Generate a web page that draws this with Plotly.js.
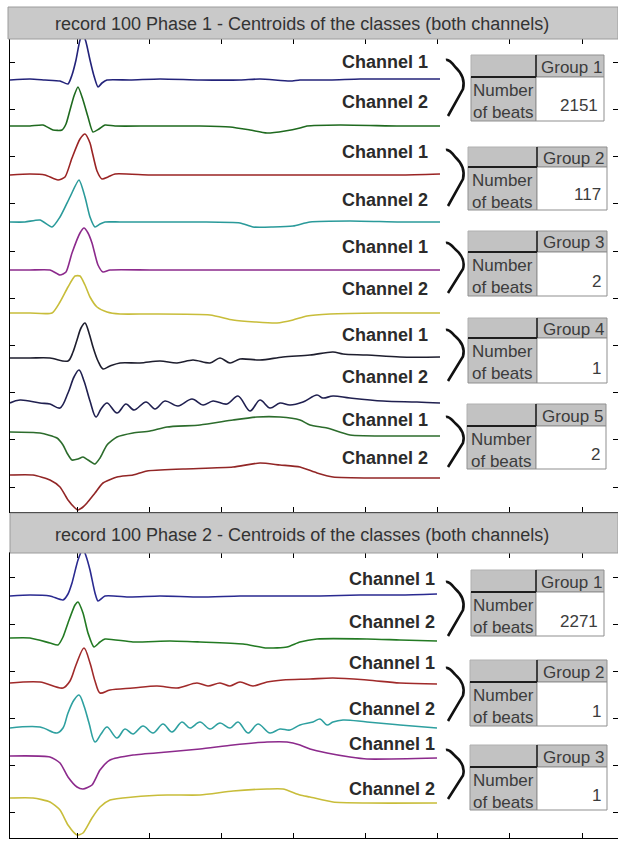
<!DOCTYPE html>
<html><head><meta charset="utf-8">
<script src="https://cdn.plot.ly/plotly-3.0.1.min.js"></script>
<style>html,body{margin:0;padding:0;background:#fff}#chart{width:618px;height:841px}</style>
</head><body><div id="chart"></div>
<script>
// ---------------- DATA ----------------
const phase1Title = "record 100 Phase 1 - Centroids of the classes (both channels)";
const phase2Title = "record 100 Phase 2 - Centroids of the classes (both channels)";
const channelLabels = ["Channel 1", "Channel 2"];
const rowLabels = ["Number", "of beats"];
const phase1Groups = ["Group 1", "Group 2", "Group 3", "Group 4", "Group 5"];
const phase1Beats = [2151, 117, 2, 1, 2];
const phase2Groups = ["Group 1", "Group 2", "Group 3"];
const phase2Beats = [2271, 1, 1];

// vertical stacking level of each centroid (axis units)
const phase1Levels = [432, 386, 337, 290, 242, 199, 154, 109, 80, 37];
const phase2Levels = [242, 199, 155, 110, 82, 40];

// Phase 1 centroids (sample position, amplitude)
const p1g1c1_t = [10,30,45,60,68,72,76,80,83,86,90,94,98,102,107,130,160,200,240,260,290,300,330,360,400,440];
const p1g1c1_v = [0,1,0,-1,-4,5,20,40,46,38,20,4,-7,-3,0,0,1,0,0,1,-1,0,0,1,1,1];
const p1g1c2_t = [10,30,43,53,62,66,70,74,78,83,88,93,99,105,115,150,200,230,250,267,285,300,307,340,400,440];
const p1g1c2_v = [0,0,1,-4,-4,2,16,30,39,26,9,-6,-3,1,0,0,0,-1,-4,-7,-5,-2,0,1,0,0];
const p1g2c1_t = [10,30,45,58,65,72,80,85,90,92,97,102,108,115,150,200,260,300,350,400,440];
const p1g2c1_v = [0,1,0,-5,-2,17,36,41,32,24,4,-4,-2,1,0,0,0,0,0,0,1];
const p1g2c2_t = [10,25,40,52,60,70,79,85,90,95,100,105,120,160,200,240,253,273,293,310,350,400,440];
const p1g2c2_v = [0,0,2,-5,5,25,42,25,5,-5,-2,0,0,0,0,-1,-5,-5,-4,0,1,0,0];
const p1g3c1_t = [10,30,50,60,66,72,80,84,88,92,98,103,110,150,200,260,300,350,400,440];
const p1g3c1_v = [0,0,0,-5,-2,17,37,42,37,27,5,-2,0,0,0,0,0,0,0,0];
const p1g3c2_t = [10,30,52,60,68,75,80,85,90,97,107,120,150,210,233,255,277,293,307,330,380,440];
const p1g3c2_v = [0,0,0,11,26,37,37,28,16,6,1,-1,-1,-2,-7,-9,-10,-7,-3,-1,0,0];
const p1g4c1_t = [10,30,50,68,73,77,81,85,89,93,98,103,110,120,140,160,177,193,210,220,230,240,260,283,310,333,343,367,400,440];
const p1g4c1_v = [0,0,0,-3,6,18,30,35,25,11,-3,-11,-8,-5,-5,-3,-5,-2,-5,0,-5,-1,-2,1,3,6,4,3,1,1];
const p1g4c2_t = [10,20,40,50,60,68,74,79,84,90,96,101,107,117,126,134,146,155,165,178,192,203,213,227,238,250,260,270,280,290,303,317,323,333,350,383,417,440];
const p1g4c2_v = [0,3,0,-1,-5,10,26,33,22,2,-14,-6,0,-10,-1,-7,1,-6,2,-3,4,-2,2,-1,7,-8,3,-5,0,-2,1,8,5,7,5,2,1,0];
const p1g5c1_t = [10,40,57,63,67,72,78,83,88,95,100,107,117,133,150,167,200,233,257,280,300,310,327,350,400,440];
const p1g5c1_v = [0,-1,-6,-13,-21,-28,-27,-25,-28,-32,-26,-13,-5,-1,1,5,7,12,15,15,12,7,4,-3,-4,-4];
const p1g5c2_t = [10,33,50,60,68,75,78,83,87,95,103,117,133,147,183,233,260,280,300,317,333,380,440];
const p1g5c2_v = [0,0,-5,-12,-25,-33,-35,-32,-28,-18,-8,-2,0,4,6,8,12,10,8,2,-2,-3,-3];

// Phase 2 centroids
const p2g1c1_t = [10,30,50,63,68,72,78,83,86,90,95,98,105,130,160,200,240,280,320,360,400,437];
const p2g1c1_v = [0,1,0,-4,2,13,36,47,40,26,3,-5,0,-1,0,-1,0,0,0,1,1,2];
const p2g1c2_t = [10,30,50,58,63,68,75,78,83,88,94,100,105,133,170,200,243,267,287,300,317,367,400,437];
const p2g1c2_v = [1,1,-4,-6,2,16,34,37,26,6,-8,-3,0,-3,-2,-3,-5,-9,-8,-3,0,0,-1,-2];
const p2g2c1_t = [10,40,63,70,76,84,90,95,100,110,133,157,177,197,208,220,230,240,253,267,283,310,333,367,400,437];
const p2g2c1_v = [0,1,-5,2,18,35,20,2,-10,-7,-5,-3,-5,0,-3,0,-3,1,-3,1,3,4,5,3,0,-1];
const p2g2c2_t = [10,40,57,63,68,74,79,84,89,95,101,107,117,125,133,143,153,163,172,182,190,200,210,220,230,238,248,258,270,280,290,300,313,320,327,333,343,367,400,437];
const p2g2c2_v = [0,1,-5,0,15,28,33,22,5,-14,-6,1,-10,-1,-6,2,-5,4,-4,6,0,6,-1,5,0,6,-5,4,-5,-1,-2,3,6,9,3,6,8,6,3,0];
const p2g3c1_t = [10,50,60,68,77,83,92,100,110,133,167,200,233,267,287,300,310,327,350,367,437];
const p2g3c1_v = [0,-1,-7,-21,-31,-33,-29,-14,-4,1,4,7,11,14,14,11,7,3,-1,-3,-2];
const p2g3c2_t = [10,33,50,60,68,77,83,92,100,110,133,167,200,233,267,283,300,310,333,367,437];
const p2g3c2_v = [0,0,-4,-12,-27,-37,-35,-20,-9,-2,1,3,3,7,9,9,3,1,-4,-5,-5];

// ---------------- STYLE ----------------
const FONT = "Liberation Sans, Arial, sans-serif";
const p1Colors = ["#23237a","#1f6a1f","#9a2424","#2a9a9a","#8c2a8c","#c8bd3a","#1e1e2e","#202050","#2c6c2c","#922626"];
const p2Colors = ["#2a2a90","#237a23","#a02a2a","#2ea0a0","#8c2a8c","#c8bd3a"];
const p1Smooth = [0.6,0.6,0.6,0.6,0.6,0.6,0.9,1.0,0.6,0.6];
const p2Smooth = [0.6,0.6,0.9,1.0,0.6,0.6];

const p1Waves = [[p1g1c1_t,p1g1c1_v],[p1g1c2_t,p1g1c2_v],[p1g2c1_t,p1g2c1_v],[p1g2c2_t,p1g2c2_v],[p1g3c1_t,p1g3c1_v],[p1g3c2_t,p1g3c2_v],[p1g4c1_t,p1g4c1_v],[p1g4c2_t,p1g4c2_v],[p1g5c1_t,p1g5c1_v],[p1g5c2_t,p1g5c2_v]];
const p2Waves = [[p2g1c1_t,p2g1c1_v],[p2g1c2_t,p2g1c2_v],[p2g2c1_t,p2g2c1_v],[p2g2c2_t,p2g2c2_v],[p2g3c1_t,p2g3c1_v],[p2g3c2_t,p2g3c2_v]];

const traces = [];
p1Waves.forEach((w, i) => traces.push({
  x: w[0], y: w[1].map(v => v + phase1Levels[i]), xaxis: 'x', yaxis: 'y', mode: 'lines',
  line: {color: p1Colors[i], width: 1.6, shape: 'spline', smoothing: p1Smooth[i]}, hoverinfo: 'skip', showlegend: false
}));
p2Waves.forEach((w, i) => traces.push({
  x: w[0], y: w[1].map(v => v + phase2Levels[i]), xaxis: 'x2', yaxis: 'y2', mode: 'lines',
  line: {color: p2Colors[i], width: 1.6, shape: 'spline', smoothing: p2Smooth[i]}, hoverinfo: 'skip', showlegend: false
}));

// ---------------- DECORATION LAYOUT (pixel positions) ----------------
const W = 618, H = 841;
const fx = x => x / W, fy = y => 1 - y / H;
const shapes = [], annotations = [];

function bar(x0, y0, y1, txt, ty) {
  shapes.push({type:'rect', xref:'paper', yref:'paper', x0:fx(x0), x1:fx(W), y0:fy(y1), y1:fy(y0),
    fillcolor:'#c9c9c9', line:{color:'#9c9c9c', width:1}, layer:'above'});
  annotations.push({xref:'paper', yref:'paper', x:fx(302), y:fy(ty), text:txt, showarrow:false,
    xanchor:'center', yanchor:'middle', font:{family:FONT, size:18, color:'#333'}});
}
bar(8, 7, 39, phase1Title, 24);
bar(10, 513, 553, phase2Title, 535);

function labels(yc1, yc2, xr) {
  [yc1, yc2].forEach((y, k) => annotations.push({xref:'paper', yref:'paper', x:fx(xr), y:fy(y), text:'<b>' + channelLabels[k] + '</b>',
    showarrow:false, xanchor:'right', yanchor:'middle', font:{family:FONT, size:18, color:'#2b2b2b'}}));
}
function brace(t, b) {
  const h = b - t;
  const p = `M ${fx(446)},${fy(t)} Q ${fx(449)},${fy(t - 1)} ${fx(455)},${fy(t + 0.12*h)} Q ${fx(466)},${fy(t + 0.3*h)} ${fx(463)},${fy(t + 0.52*h)} L ${fx(448)},${fy(b)}`;
  shapes.push({type:'path', xref:'paper', yref:'paper', path:p, line:{color:'#111', width:2.6}, layer:'above'});
}
function table(L, R, D, T, Hh, B, grp, n) {
  const r = (x0,y0,x1,y1,fill,lc,lw) => shapes.push({type:'rect', xref:'paper', yref:'paper', x0:fx(x0), x1:fx(x1), y0:fy(y1), y1:fy(y0), fillcolor:fill, line:{color:lc, width:lw}, layer:'above'});
  r(L, T, D, Hh, '#c2c2c2', '#b0b0b0', 1);
  r(D, T, R, Hh, '#c2c2c2', '#8f8f8f', 1);
  r(L, Hh, D, B, '#c2c2c2', '#8f8f8f', 1);
  r(D, Hh, R, B, '#ffffff', '#8f8f8f', 1);
  const ln = (x0,y0,x1,y1,c,w) => shapes.push({type:'line', xref:'paper', yref:'paper', x0:fx(x0), x1:fx(x1), y0:fy(y0), y1:fy(y1), line:{color:c, width:w}, layer:'above'});
  ln(L, Hh, D, Hh, '#1e1e1e', 2);
  ln(D, T, D, Hh, '#1e1e1e', 1.5);
  const a = (x, y, txt, anc, size) => annotations.push({xref:'paper', yref:'paper', x:fx(x), y:fy(y), text:txt, showarrow:false, xanchor:anc, yanchor:'middle', font:{family:FONT, size:size, color:'#3c3c3c'}});
  a((D + R) / 2 + 1, (T + Hh) / 2 + 1, grp, 'center', 17);
  a((L + D) / 2, Hh + 13, rowLabels[0], 'center', 17);
  a((L + D) / 2, Hh + 35, rowLabels[1], 'center', 17);
  a(R - 4, B - 15, String(n), 'right', 17);
}

// phase 1 positions
const p1Lab = [[62,102],[152,200],[247,289],[335,377],[420,458]];
const p1Brace = [[60,116],[150,206],[243,293],[330,381],[417,467]];
const p1Tab = [[471,604,536,55,77,121],[468,607,537,147,167,210],[468,607,537,231,252,296],[468,607,537,318,338,383],[467,606,536,404,426,469]];
phase1Groups.forEach((g, i) => {
  labels(p1Lab[i][0], p1Lab[i][1], 430);
  brace(p1Brace[i][0], p1Brace[i][1]);
  const t = p1Tab[i]; table(t[0], t[1], t[2], t[3], t[4], t[5], g, phase1Beats[i]);
});
// phase 2 positions
const p2Lab = [[579,622],[663,709],[744,789]];
const p2Brace = [[582,636],[668,721],[750,799]];
const p2Tab = [[471,604,536,570,592,636],[470,607,537,660,682,726],[470,607,537,745,767,810]];
phase2Groups.forEach((g, i) => {
  labels(p2Lab[i][0], p2Lab[i][1], 437);
  brace(p2Brace[i][0], p2Brace[i][1]);
  const t = p2Tab[i]; table(t[0], t[1], t[2], t[3], t[4], t[5], g, phase2Beats[i]);
});

const axX = (anchor) => ({domain:[10/W, 1], range:[10, 618], anchor:anchor, tickmode:'linear', tick0:77, dtick:72.15,
  ticks:'inside', ticklen:5, tickcolor:'#000', showticklabels:false, showline:true, linecolor:'#000', linewidth:1,
  mirror:'ticks', showgrid:false, zeroline:false, fixedrange:true});
const axY = (anchor, dom, rng, t0, dt) => ({domain:dom, range:rng, anchor:anchor, tickmode:'linear', tick0:t0, dtick:dt,
  ticks:'inside', ticklen:5, tickcolor:'#000', showticklabels:false, showline:true, linecolor:'#000', linewidth:1,
  mirror:'ticks', showgrid:false, zeroline:false, fixedrange:true});

const layout = {
  width: W, height: H, margin:{l:0, r:0, t:0, b:0}, paper_bgcolor:'#fff', plot_bgcolor:'#fff',
  xaxis: axX('y'), yaxis: axY('x', [1 - 512/H, 1 - 39/H], [0, 473], 25, 47.2),
  xaxis2: axX('y2'), yaxis2: axY('x2', [1 - 838/H, 1 - 553/H], [0, 285], 26, 47),
  shapes: shapes, annotations: annotations, showlegend:false, font:{family:FONT}
};
Plotly.newPlot('chart', traces, layout, {displayModeBar:false, staticPlot:true});
</script></body></html>
